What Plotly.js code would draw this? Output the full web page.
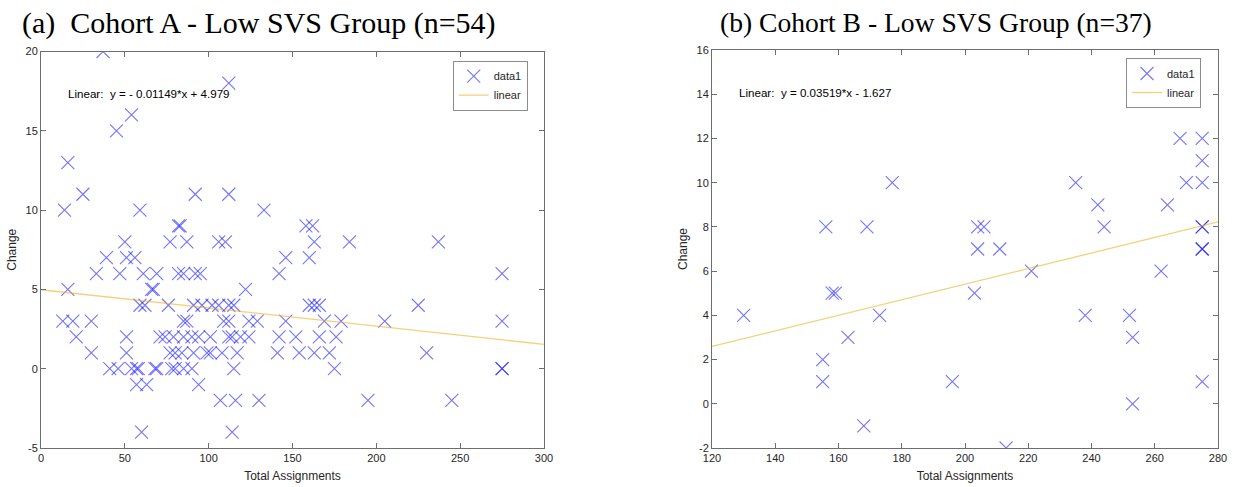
<!DOCTYPE html>
<html>
<head>
<meta charset="utf-8">
<script src="https://cdn.plot.ly/plotly-3.0.1.min.js"></script>
<style>html,body{margin:0;padding:0;background:#fff;}#chart{width:1233px;height:487px;}</style>
</head>
<body>
<div id="chart"></div>
<script>
// ---------- Data: Cohort A (panel a) ----------
const cohortA_x = [
  37, 112, 54, 45, 16,
  25, 92, 112,
  14, 59, 133,
  82, 83, 158, 162,
  50, 77, 87, 106, 110, 163, 184, 237,
  39, 51, 56, 146, 160,
  33, 47, 61, 69, 82, 85, 92, 95, 142, 275,
  16, 66, 67, 122,
  59, 62, 76, 91, 96, 102, 106, 112, 115, 160, 163, 166, 225,
  13, 19, 30, 85, 87, 109, 112, 124, 129, 146, 169, 179, 205, 275,
  21, 51, 71, 74, 79, 85, 90, 94, 101, 112, 114, 119, 124, 142, 152, 166, 176,
  30, 51, 77, 80, 84, 91, 99, 101, 108, 117, 141, 154, 163, 172, 230,
  41, 46, 54, 57, 58, 68, 69, 78, 80, 85, 90, 115, 175, 275, 275,
  57, 63, 94,
  107, 116, 130, 195, 245,
  60, 114
];
const cohortA_y = [
  20, 18, 16, 15, 13,
  11, 11, 11,
  10, 10, 10,
  9, 9, 9, 9,
  8, 8, 8, 8, 8, 8, 8, 8,
  7, 7, 7, 7, 7,
  6, 6, 6, 6, 6, 6, 6, 6, 6, 6,
  5, 5, 5, 5,
  4, 4, 4, 4, 4, 4, 4, 4, 4, 4, 4, 4, 4,
  3, 3, 3, 3, 3, 3, 3, 3, 3, 3, 3, 3, 3, 3,
  2, 2, 2, 2, 2, 2, 2, 2, 2, 2, 2, 2, 2, 2, 2, 2, 2,
  1, 1, 1, 1, 1, 1, 1, 1, 1, 1, 1, 1, 1, 1, 1,
  0, 0, 0, 0, 0, 0, 0, 0, 0, 0, 0, 0, 0, 0, 0,
  -1, -1, -1,
  -2, -2, -2, -2, -2,
  -4, -4
];
// Linear fit endpoints (y = -0.01149*x + 4.979)
const fitA_x = [0, 300];
const fitA_y = [4.979, 1.532];
const fitA_label = "Linear:  y = - 0.01149*x + 4.979";

// ---------- Data: Cohort B (panel b) ----------
const cohortB_x = [130, 155, 155, 156, 158, 159, 163, 168, 169, 173, 177, 196, 203, 204, 206, 204, 211, 213, 221, 235, 238, 242, 244, 252, 253, 253, 262, 264, 268, 270, 275, 275, 275, 275, 275, 275, 275, 275];
const cohortB_y = [4, 2, 1, 8, 5, 5, 3, -1, 8, 4, 10, 1, 5, 8, 8, 7, 7, -2, 6, 10, 4, 9, 8, 4, 3, 0, 6, 9, 12, 10, 12, 11, 10, 8, 8, 7, 7, 1];
// Linear fit endpoints (y = 0.03519*x - 1.627)
const fitB_x = [120, 280];
const fitB_y = [2.596, 8.226];
const fitB_label = "Linear:  y = 0.03519*x - 1.627";

// ---------- Tick labels ----------
const xTicksA = [0, 50, 100, 150, 200, 250, 300];
const xTickTextA = ["0", "50", "100", "150", "200", "250", "300"];
const yTicksA = [-5, 0, 5, 10, 15, 20];
const yTickTextA = ["-5", "0", "5", "10", "15", "20"];
const xTicksB = [120, 140, 160, 180, 200, 220, 240, 260, 280];
const xTickTextB = ["120", "140", "160", "180", "200", "220", "240", "260", "280"];
const yTicksB = [-2, 0, 2, 4, 6, 8, 10, 12, 14, 16];
const yTickTextB = ["-2", "0", "2", "4", "6", "8", "10", "12", "14", "16"];

const titleA = "(a)&nbsp; Cohort A - Low SVS Group (n=54)";
const titleB = "(b) Cohort B - Low SVS Group (n=37)";

// ---------- Styles ----------
const W = 1233, H = 487;
const markerStyle = {symbol: "x-thin", size: 13, color: "rgba(0,0,255,0.55)", line: {color: "rgba(0,0,255,0.55)", width: 1.1}};
const fitStyle = {color: "rgba(237,177,32,0.6)", width: 1.3};
const sans = "Liberation Sans, Arial, Helvetica, sans-serif";
const axisColor = "#6e6e6e";
const tickFont = {family: sans, size: 11, color: "#262626"};

function px(x) { return x / W; }
function py(y) { return (H - y) / H; }

function axisBase(domain, range, tickvals, ticktext) {
  return {
    domain: domain, range: range, tickmode: "array", tickvals: tickvals, ticktext: ticktext,
    showgrid: false, zeroline: false, showline: true, linecolor: axisColor, linewidth: 1,
    mirror: "ticks", ticks: "inside", ticklen: 5, tickcolor: axisColor, tickwidth: 1,
    tickfont: tickFont, fixedrange: true
  };
}

const traces = [
  {x: cohortA_x, y: cohortA_y, type: "scatter", mode: "markers", name: "data1", marker: markerStyle, xaxis: "x", yaxis: "y", legend: "legend", hoverinfo: "x+y"},
  {x: fitA_x, y: fitA_y, type: "scatter", mode: "lines", name: "linear", line: fitStyle, xaxis: "x", yaxis: "y", legend: "legend"},
  {x: cohortB_x, y: cohortB_y, type: "scatter", mode: "markers", name: "data1", marker: markerStyle, xaxis: "x2", yaxis: "y2", legend: "legend2", hoverinfo: "x+y"},
  {x: fitB_x, y: fitB_y, type: "scatter", mode: "lines", name: "linear", line: fitStyle, xaxis: "x2", yaxis: "y2", legend: "legend2"}
];

const axisTitleFont = {family: sans, size: 12, color: "#262626"};

const xA = axisBase([px(41), px(544)], [0, 300], xTicksA, xTickTextA);
xA.anchor = "y";
xA.title = {text: "Total Assignments", font: axisTitleFont, standoff: 8};
const yA = axisBase([py(448), py(51.5)], [-5, 20], yTicksA, yTickTextA);
yA.anchor = "x";
yA.title = {text: "Change", font: axisTitleFont, standoff: 6};

const xB = axisBase([px(712), px(1218)], [120, 280], xTicksB, xTickTextB);
xB.anchor = "y2";
xB.title = {text: "Total Assignments", font: axisTitleFont, standoff: 8};
const yB = axisBase([py(448), py(50)], [-2, 16], yTicksB, yTickTextB);
yB.anchor = "x2";
yB.title = {text: "Change", font: axisTitleFont, standoff: 6};

const legendBase = {
  bgcolor: "#ffffff", bordercolor: "#8c8c8c", borderwidth: 1,
  font: {family: sans, size: 11, color: "#262626"},
  xanchor: "left", yanchor: "top", itemwidth: 30, tracegroupgap: 0
};

const layout = {
  width: W, height: H,
  margin: {l: 0, r: 0, t: 0, b: 0},
  paper_bgcolor: "#ffffff", plot_bgcolor: "#ffffff",
  showlegend: true,
  xaxis: xA, yaxis: yA, xaxis2: xB, yaxis2: yB,
  legend: Object.assign({}, legendBase, {x: px(452.7), y: py(60.7)}),
  legend2: Object.assign({}, legendBase, {x: px(1126), y: py(58)}),
  annotations: [
    {text: titleA, xref: "paper", yref: "paper", x: px(20), y: py(23), xanchor: "left", yanchor: "middle", showarrow: false, font: {family: "Liberation Serif, Times New Roman, serif", size: 30, color: "#000"}},
    {text: titleB, xref: "paper", yref: "paper", x: px(718), y: py(22), xanchor: "left", yanchor: "middle", showarrow: false, font: {family: "Liberation Serif, Times New Roman, serif", size: 27.6, color: "#000"}},
    {text: fitA_label, xref: "paper", yref: "paper", x: px(66), y: py(93), xanchor: "left", yanchor: "middle", showarrow: false, font: {family: sans, size: 11.6, color: "#000"}},
    {text: fitB_label, xref: "paper", yref: "paper", x: px(737), y: py(92.7), xanchor: "left", yanchor: "middle", showarrow: false, font: {family: sans, size: 11.6, color: "#000"}}
  ]
};

Plotly.newPlot("chart", traces, layout, {staticPlot: true, displayModeBar: false});
</script>
</body>
</html>
